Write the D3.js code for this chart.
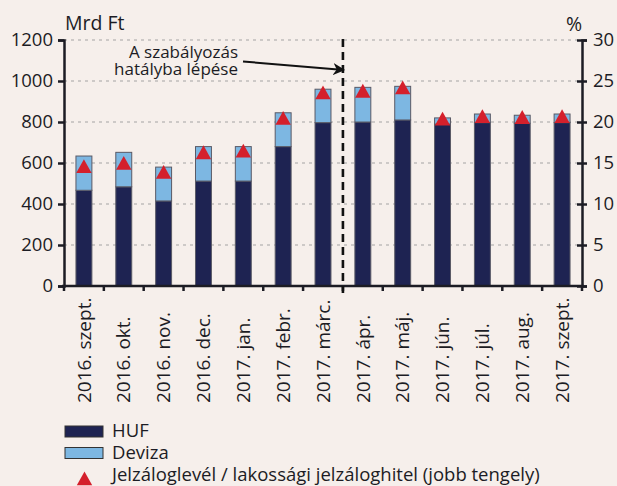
<!DOCTYPE html>
<html>
<head>
<meta charset="utf-8">
<script src="https://cdn.jsdelivr.net/npm/d3@7"></script>
<style>
  html, body { margin: 0; padding: 0; background: #f6efeb; }
  svg { display: block; font-family: "Open Sans", sans-serif; }
</style>
</head>
<body>
<svg id="chart" width="617" height="486"></svg>
<script>
// data
const months = ["2016. szept.", "2016. okt.", "2016. nov.", "2016. dec.", "2017. jan.", "2017. febr.",
                "2017. márc.", "2017. ápr.", "2017. máj.", "2017. jún.", "2017. júl.", "2017. aug.", "2017. szept."];
const huf    = [467, 484, 415, 512, 512, 680, 797, 800, 810, 790, 797, 794, 797];
const deviza = [167, 168, 165, 168, 168, 165, 163, 169, 164, 30, 42, 39, 42];
const ratio  = [14.6, 15.0, 13.9, 16.3, 16.5, 20.5, 23.6, 23.8, 24.2, 20.4, 20.7, 20.6, 20.7];
const leftTicks  = [0, 200, 400, 600, 800, 1000, 1200];
const rightTicks = [0, 5, 10, 15, 20, 25, 30];
const ruleMonth = "2017. ápr."; // the rule came into force before this month

const ink = "#1c1c24";
const svg = d3.select("#chart");

let x = d3.scaleBand().domain(months).range([64, 582]).padding(0);
let yL = d3.scaleLinear().domain([0, 1200]).range([286, 40]);
let yR = d3.scaleLinear().domain([0, 30]).range([286, 40]);
let bw = x.bandwidth();

// grid
svg.append("g").selectAll("line")
    .data(leftTicks.filter(t => t > 0))
    .join("line")
    .attr("x1", 64).attr("x2", 582)
    .attr("y1", d => yL(d)).attr("y2", d => yL(d))
    .attr("stroke", "#a3a3a3").attr("stroke-width", 1.2)
    .attr("stroke-dasharray", "3,4");

// stacked bars
let rows = months.map((m, i) => ({m: m, huf: huf[i], dev: deviza[i], r: ratio[i]}));
let bars = svg.append("g");
bars.selectAll("rect.huf").data(rows).join("rect")
    .attr("class", "huf")
    .attr("x", d => x(d.m) + bw * 0.3).attr("width", bw * 0.4)
    .attr("y", d => yL(d.huf)).attr("height", d => yL(0) - yL(d.huf))
    .attr("fill", "#1e2352").attr("stroke", "#5a5a66").attr("stroke-width", 1);
bars.selectAll("rect.dev").data(rows).join("rect")
    .attr("class", "dev")
    .attr("x", d => x(d.m) + bw * 0.3).attr("width", bw * 0.4)
    .attr("y", d => yL(d.huf + d.dev)).attr("height", d => yL(d.huf) - yL(d.huf + d.dev))
    .attr("fill", "#7db7e2").attr("stroke", "#5a5a66").attr("stroke-width", 1);

// triangles (right axis)
const tri = "M0,-7 L7.7,6.8 L-7.7,6.8 Z";
svg.append("g").selectAll("path").data(rows).join("path")
    .attr("d", tri)
    .attr("transform", d => `translate(${x(d.m) + bw / 2},${yR(d.r)})`)
    .attr("fill", "#d4202c");

// axes
let axL = svg.append("g").attr("transform", "translate(64,0)")
    .call(d3.axisLeft(yL).tickValues(leftTicks).tickFormat(d3.format("d")).tickSize(6).tickPadding(5));
let axR = svg.append("g").attr("transform", "translate(582,0)")
    .call(d3.axisRight(yR).tickValues(rightTicks).tickFormat(d3.format("d")).tickSize(5).tickPadding(6));
axR.selectAll(".tick line").attr("x1", -5);
let axX = svg.append("g").attr("transform", "translate(0,286)")
    .call(d3.axisBottom(x).tickValues([]).tickSizeOuter(0));
// band boundary ticks
axX.selectAll("line.bt").data(months.concat(["end"])).join("line")
    .attr("class", "bt")
    .attr("x1", (d, i) => i < months.length ? x(d) : x.range()[1])
    .attr("x2", (d, i) => i < months.length ? x(d) : x.range()[1])
    .attr("y1", 0).attr("y2", 5);

[axL, axR, axX].forEach(a => {
    a.selectAll("path.domain").attr("stroke", ink).attr("stroke-width", 2.5);
    a.selectAll("line").attr("stroke", ink).attr("stroke-width", 2.5);
    a.selectAll("text").attr("fill", ink).attr("font-size", 18.5)
        .attr("font-family", "Open Sans, sans-serif");
});
axX.select("path.domain").attr("d", "M62,0H584");

// category labels, rotated
svg.append("g").selectAll("text").data(months).join("text")
    .attr("transform", d => `translate(${x(d) + bw / 2},403) rotate(-90)`)
    .attr("dy", "0.35em")
    .attr("text-anchor", "start")
    .attr("font-size", 19).attr("fill", ink)
    .text(d => d);

// units
svg.append("text").attr("x", 65).attr("y", 30).attr("font-size", 19.5).attr("fill", ink).text("Mrd Ft");
svg.append("text").attr("x", 582).attr("y", 30.5).attr("text-anchor", "end").attr("font-size", 19.5).attr("fill", ink).text("%");

// regulation line and note
let xr = x(ruleMonth);
svg.append("line").attr("x1", xr).attr("x2", xr).attr("y1", 39).attr("y2", 293)
    .attr("stroke", "#111").attr("stroke-width", 2.6).attr("stroke-dasharray", "8,5");
svg.append("defs").append("marker").attr("id", "arr")
    .attr("viewBox", "0 0 10 10").attr("refX", 9).attr("refY", 5)
    .attr("markerWidth", 6).attr("markerHeight", 6).attr("orient", "auto")
    .append("path").attr("d", "M0,0 L10,5 L0,10 L3,5 Z").attr("fill", "#111");
svg.append("line").attr("x1", 243).attr("y1", 61.5).attr("x2", xr + 1).attr("y2", 70)
    .attr("stroke", "#111").attr("stroke-width", 2).attr("marker-end", "url(#arr)");
let note = svg.append("text").attr("text-anchor", "end").attr("font-size", 17).attr("fill", ink);
note.append("tspan").attr("x", 238).attr("y", 58).text("A szabályozás");
note.append("tspan").attr("x", 238).attr("y", 75).text("hatályba lépése");

// legend
let lg = svg.append("g");
lg.append("rect").attr("x", 65).attr("y", 426).attr("width", 38).attr("height", 11)
    .attr("fill", "#1e2352").attr("stroke", "#333").attr("stroke-width", 1);
lg.append("text").attr("x", 112).attr("y", 437).attr("font-size", 18.5).attr("fill", ink).text("HUF");
lg.append("rect").attr("x", 65).attr("y", 447.5).attr("width", 38).attr("height", 11)
    .attr("fill", "#7db7e2").attr("stroke", "#333").attr("stroke-width", 1);
lg.append("text").attr("x", 112).attr("y", 459).attr("font-size", 18.5).attr("fill", ink).text("Deviza");
lg.append("path").attr("d", tri).attr("transform", "translate(84.5,478.5)").attr("fill", "#d4202c");
lg.append("text").attr("x", 112).attr("y", 481).attr("font-size", 18.5).attr("fill", ink)
    .text("Jelzáloglevél / lakossági jelzáloghitel (jobb tengely)");
</script>
</body>
</html>
